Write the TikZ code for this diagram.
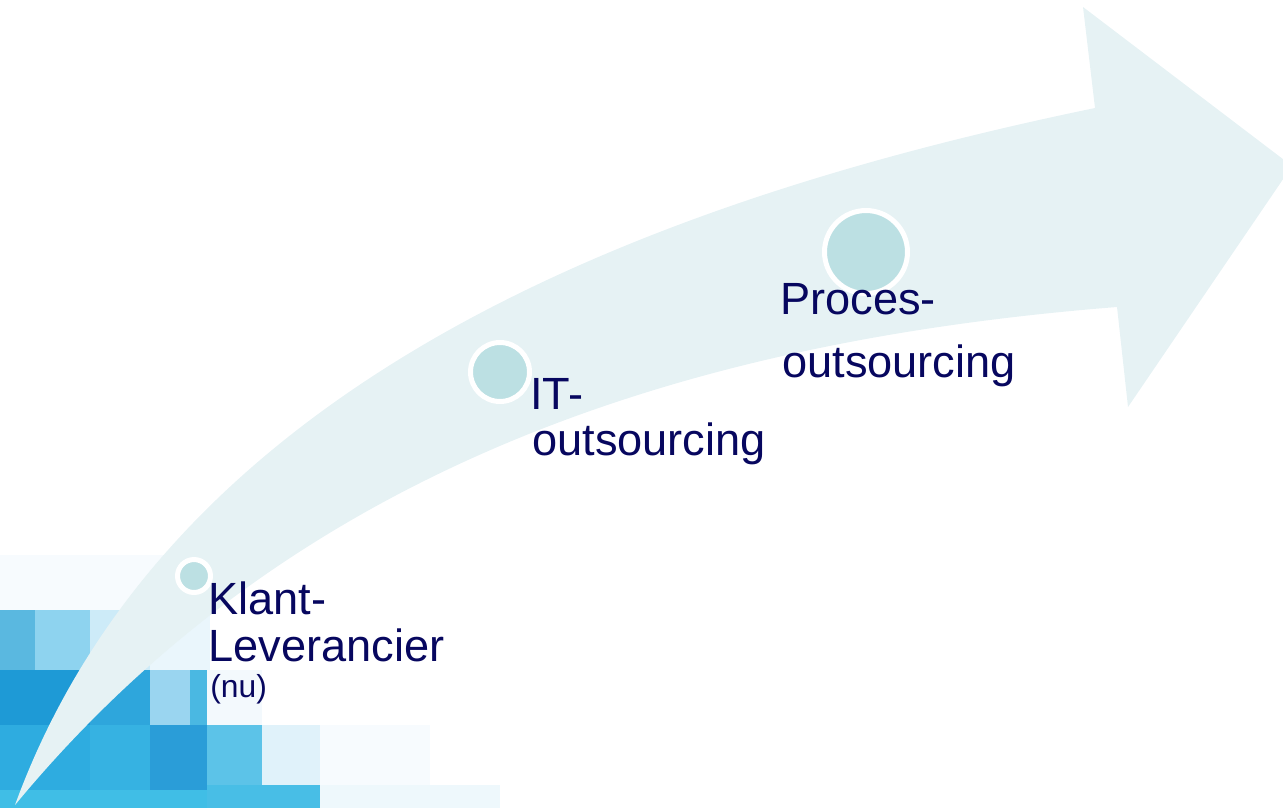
\documentclass[tikz,border=0pt]{standalone}
\usepackage{fontspec}
\setmainfont{Liberation Sans}
\definecolor{band}{HTML}{E6F2F4}
\definecolor{haltefill}{HTML}{BCE0E3}
\definecolor{navy}{HTML}{07075F}
\tikzset{
  halte/.style={circle, draw=white, line width=0.1cm, fill=haltefill, inner sep=0pt},
  lbl/.style={anchor=base west, inner sep=0pt, text=navy, font=\fontsize{25.7}{30}\selectfont},
  sublbl/.style={lbl, font=\fontsize{18.1}{22}\selectfont}
}
\begin{document}
\begin{tikzpicture}[x=0.02cm,y=-0.02cm]
  \useasboundingbox (0,0) rectangle (1283,808);
  \clip (0,0) rectangle (1283,808);
  % blue tiles, bottom left
  \foreach \xa/\ya/\xb/\yb/\c in {
      0/555/180/610/F7FBFE, 0/610/35/670/5AB8E0, 35/610/90/670/8ED3EF,
      90/610/150/670/CDEBF8, 150/610/210/670/EAF6FC,
      0/670/90/725/1E9AD6, 90/670/150/725/2EA6DC, 150/670/190/725/9AD5F0,
      190/670/207/725/4AB8E2, 207/670/262/725/F3F9FD,
      0/725/90/790/2EACE0, 90/725/150/790/36B2E2, 150/725/207/790/2A9DD8,
      207/725/262/785/5CC3E8, 262/725/320/785/E0F2FA, 320/725/430/785/F7FBFE,
      0/790/207/808/40BEE6, 207/785/320/808/48BEE6, 320/785/500/808/EEF8FC}
    {\definecolor{tile}{HTML}{\c}\fill[tile] (\xa,\ya) rectangle (\xb,\yb);}
  % the big arrow
  \fill[band] (15,805) .. controls (170,380) and (650,200) .. (1095,108)
    -- (1083,7) -- (1292,166) -- (1128,407) -- (1117,307)
    .. controls (700,340) and (300,460) .. (15,805) -- cycle;
  % stops
  \node[halte, minimum size=0.66cm] (klant) at (194,576) {};
  \node[halte, minimum size=1.18cm] (it) at (500,372) {};
  \node[halte, minimum size=1.66cm] (proces) at (866,252) {};
  % labels
  \node[lbl] (klanta) at (208,614) {Klant-};
  \node[lbl] (klantb) at (208,661) {Leverancier};
  \node[sublbl] (klantc) at (210,697) {(nu)};
  \node[lbl] (ita) at (530,409) {IT-};
  \node[lbl] (itb) at (532,455) {outsourcing};
  \node[lbl] (procesa) at (780,314) {Proces-};
  \node[lbl] (procesb) at (782,377) {outsourcing};
\end{tikzpicture}
\end{document}
